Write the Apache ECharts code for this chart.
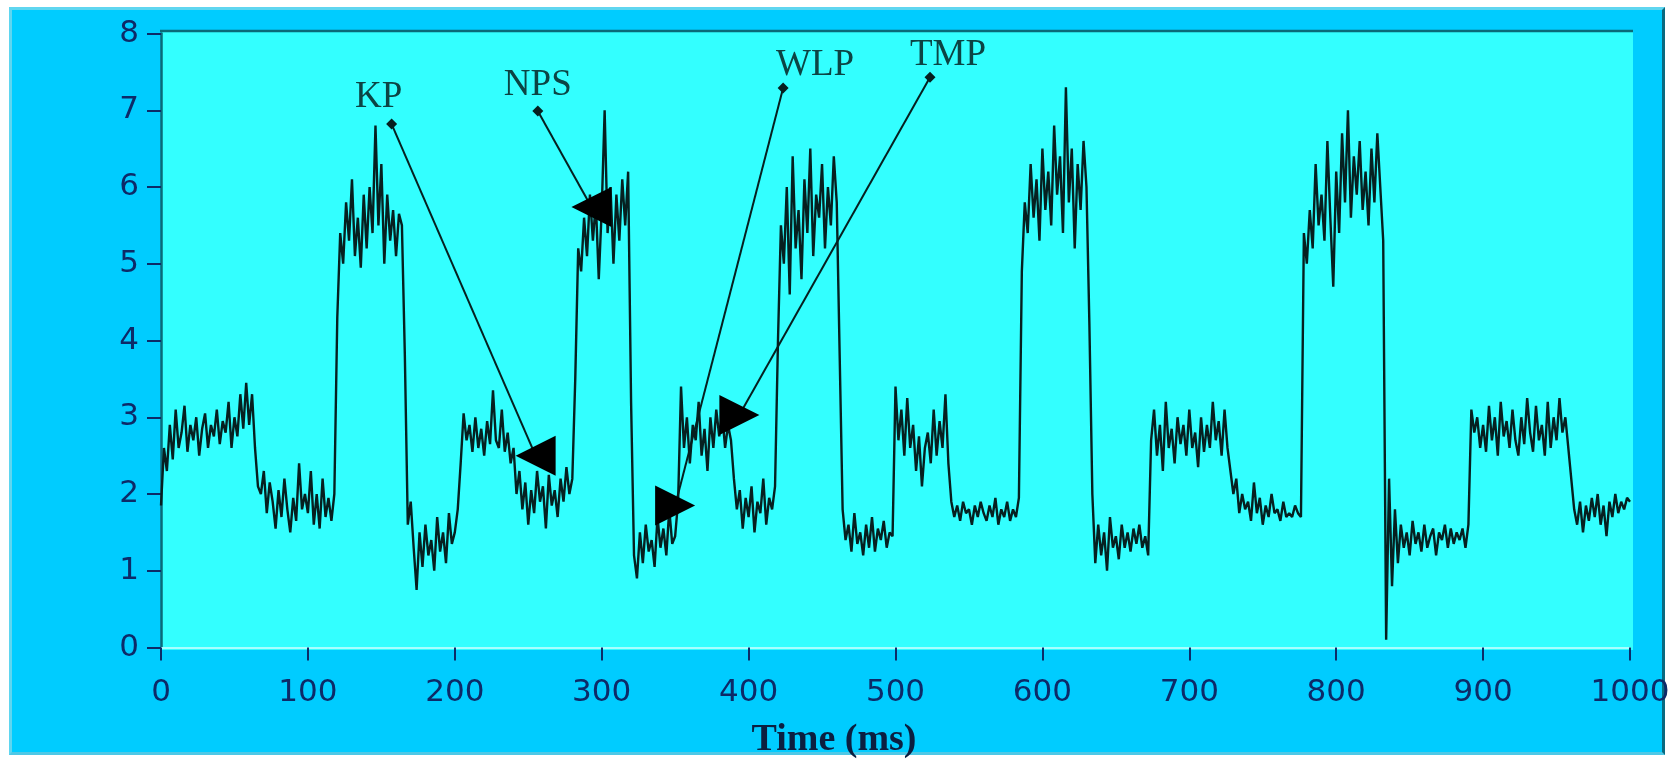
<!DOCTYPE html>
<html>
<head>
<meta charset="utf-8">
<script src="https://cdn.jsdelivr.net/npm/echarts@6/dist/echarts.min.js"></script>
<style>
  html, body { margin: 0; padding: 0; background: #ffffff; }
  #panel { position: absolute; left: 9px; top: 7px; width: 1656px; height: 748px;
           background: #00ccff; border-top: 3px solid #5fd6f0; border-left: 3px solid #5fd6f0;
           border-right: 3px solid #0a6a80; border-bottom: 3px solid #4ec8e6; box-sizing: border-box; }
  #chart { position: absolute; left: 0; top: 0; width: 1680px; height: 765px; }
</style>
</head>
<body>
<div id="panel"></div>
<div id="chart"></div>
<script>
// ---- data ----
const SAMPLE_STEP_MS = 2;
const signal = [
  1.85, 2.6, 2.3, 2.9, 2.45, 3.1, 2.6, 2.8, 3.15, 2.55,
  2.9, 2.7, 3.0, 2.5, 2.85, 3.05, 2.6, 2.9, 2.75, 3.1,
  2.65, 2.95, 2.8, 3.2, 2.6, 3.0, 2.75, 3.3, 2.85, 3.45,
  2.9, 3.3, 2.6, 2.1, 2.0, 2.3, 1.75, 2.15, 1.9, 1.55,
  2.05, 1.7, 2.2, 1.8, 1.5, 1.95, 1.65, 2.4, 1.8, 2.0,
  1.75, 2.3, 1.6, 2.0, 1.55, 2.2, 1.7, 1.95, 1.65, 2.0,
  4.3, 5.4, 5.0, 5.8, 5.3, 6.1, 5.1, 5.6, 4.95, 5.9,
  5.2, 6.0, 5.4, 6.8, 5.5, 6.3, 5.0, 5.9, 5.3, 5.7,
  5.1, 5.65, 5.5, 3.8, 1.6, 1.9, 1.3, 0.75, 1.5, 1.05,
  1.6, 1.2, 1.4, 1.0, 1.7, 1.25, 1.5, 1.1, 1.75, 1.35,
  1.5, 1.8, 2.4, 3.05, 2.7, 2.9, 2.55, 3.0, 2.6, 2.85,
  2.5, 2.95, 2.65, 3.35, 2.7, 2.6, 3.1, 2.55, 2.8, 2.4,
  2.6, 2.0, 2.3, 1.8, 2.15, 1.6, 2.05, 1.75, 2.3, 1.9,
  2.1, 1.55, 2.25, 1.85, 2.05, 1.7, 2.2, 1.9, 2.35, 2.0,
  2.2, 3.5, 5.2, 4.9, 5.6, 5.1, 5.9, 5.3, 5.8, 4.8,
  5.7, 7.0, 5.4, 6.0, 5.0, 5.9, 5.3, 6.1, 5.5, 6.2,
  3.2, 1.2, 0.9, 1.5, 1.1, 1.6, 1.25, 1.4, 1.05, 1.7,
  1.3, 1.55, 1.2, 1.8, 1.35, 1.45, 1.9, 3.4, 2.6, 3.0,
  2.4, 2.9, 2.7, 3.2, 2.5, 2.85, 2.3, 3.0, 2.6, 3.1,
  2.75, 3.05, 2.6, 2.9, 2.7, 2.2, 1.8, 2.05, 1.55, 1.95,
  1.7, 2.1, 1.5, 1.9, 1.75, 2.2, 1.6, 1.95, 1.8, 2.1,
  4.0, 5.5, 5.0, 6.0, 4.6, 6.4, 5.2, 5.7, 4.8, 6.1,
  5.4, 6.5, 5.1, 5.9, 5.6, 6.3, 5.2, 6.0, 5.5, 6.4,
  5.8, 3.8, 1.8, 1.4, 1.6, 1.25, 1.75, 1.35, 1.5, 1.2,
  1.6, 1.3, 1.7, 1.25, 1.55, 1.4, 1.65, 1.3, 1.5, 1.45,
  3.4, 2.7, 3.1, 2.5, 3.25, 2.6, 2.9, 2.3, 2.75, 2.1,
  2.6, 2.8, 2.4, 3.1, 2.5, 2.95, 2.6, 3.3, 2.4, 1.9,
  1.7, 1.85, 1.65, 1.9, 1.75, 1.8, 1.6, 1.85, 1.7, 1.9,
  1.75, 1.65, 1.85, 1.7, 1.95, 1.6, 1.8, 1.7, 1.9, 1.65,
  1.8, 1.7, 1.95, 4.9, 5.8, 5.4, 6.3, 5.6, 6.1, 5.3,
  6.5, 5.7, 6.2, 5.5, 6.8, 5.9, 6.4, 5.4, 7.3, 5.8,
  6.5, 5.2, 6.3, 5.7, 6.6, 6.0, 4.2, 2.0, 1.1, 1.6,
  1.2, 1.5, 1.0, 1.7, 1.3, 1.45, 1.15, 1.6, 1.3, 1.5,
  1.25, 1.55, 1.35, 1.6, 1.3, 1.45, 1.2, 2.7, 3.1, 2.5,
  2.9, 2.3, 3.2, 2.6, 2.85, 2.4, 3.0, 2.65, 2.9, 2.5,
  3.1, 2.6, 2.8, 2.35, 3.0, 2.55, 2.9, 2.6, 3.2, 2.7,
  2.95, 2.5, 3.1, 2.6, 2.3, 2.0, 2.2, 1.75, 2.0, 1.8,
  1.9, 1.65, 2.15, 1.75, 1.95, 1.6, 1.85, 1.7, 2.0, 1.75,
  1.8, 1.65, 1.9, 1.7, 1.75, 1.7, 1.85, 1.75, 1.7, 5.4,
  5.0, 5.7, 5.2, 6.3, 5.5, 5.9, 5.3, 6.6, 5.6, 4.7,
  6.2, 5.4, 6.7, 5.8, 7.0, 5.6, 6.4, 5.9, 6.6, 5.7,
  6.2, 5.5, 6.5, 5.8, 6.7, 6.0, 5.3, 0.1, 2.2, 0.8,
  1.8, 1.1, 1.6, 1.3, 1.5, 1.2, 1.65, 1.35, 1.5, 1.25,
  1.6, 1.3, 1.45, 1.55, 1.2, 1.5, 1.4, 1.6, 1.3, 1.55,
  1.35, 1.5, 1.4, 1.55, 1.3, 1.6, 3.1, 2.8, 3.0, 2.6,
  2.9, 2.55, 3.15, 2.7, 3.0, 2.5, 3.2, 2.75, 2.95, 2.6,
  3.1, 2.7, 2.5, 3.0, 2.65, 3.25, 2.8, 2.55, 3.15, 2.7,
  2.9, 2.5, 3.2, 2.6, 3.0, 2.7, 3.25, 2.8, 3.0, 2.6,
  2.2, 1.8, 1.6, 1.9, 1.5, 1.85, 1.65, 1.95, 1.7, 2.0,
  1.6, 1.85, 1.45, 1.9, 1.7, 2.0, 1.75, 1.9, 1.8, 1.95,
  1.9
];
const xTicks = [0, 100, 200, 300, 400, 500, 600, 700, 800, 900, 1000];
const yTicks = [0, 1, 2, 3, 4, 5, 6, 7, 8];
const xTitle = 'Time (ms)';

// annotations (data coordinates)
const annoNames   = ['KP', 'NPS', 'WLP', 'TMP'];
const annoAnchor  = [[157, 6.82], [256.5, 6.99], [423.5, 7.29], [523.5, 7.43]];
const annoArrow   = [[255, 2.5], [293, 5.74], [350, 1.85], [393.7, 3.03]];

// style-only config for annotations
const annoLabelOffset = [[-13, -27], [0, -26], [32, -23], [18, -22]];
const annoArrowRotate = [90, 90, -90, -90];

// ---- chart ----
const pts = signal.map((v, i) => [i * SAMPLE_STEP_MS, v]);
const chart = echarts.init(document.getElementById('chart'), null, { renderer: 'canvas' });

const GRID = { left: 161, top: 33.5, right: 50, bottom: 117.5 };
const navy = '#0d2a68';
const dark = '#062020';

chart.setOption({
  animation: false,
  backgroundColor: 'transparent',
  grid: { left: GRID.left, top: GRID.top, right: GRID.right, bottom: GRID.bottom, show: false },
  graphic: [
    { type: 'rect', z: -10, shape: { x: 161, y: 31, width: 1472, height: 619 },
      style: { fill: '#33ffff' } },
    { type: 'line', z: 10, shape: { x1: 160, y1: 31, x2: 1633, y2: 31 },
      style: { stroke: '#0a6a78', lineWidth: 2.5 } },
    { type: 'text', z: 10, x: 834, y: 740,
      style: { text: xTitle, font: 'bold 38px "Liberation Serif", "DejaVu Serif", serif',
               fill: '#0b1f40', align: 'center', verticalAlign: 'middle' } }
  ],
  xAxis: {
    type: 'value', min: 0, max: 1000, interval: 100,
    axisLine: { show: true, onZero: false, lineStyle: { color: '#a8ffff', width: 2 } },
    axisTick: { show: true, length: 13, lineStyle: { color: navy, width: 2 } },
    axisLabel: { color: navy, fontFamily: 'DejaVu Sans', fontSize: 31, margin: 30,
                 formatter: v => xTicks.includes(v) ? String(v) : '' },
    splitLine: { show: false }
  },
  yAxis: {
    type: 'value', min: 0, max: 8, interval: 1,
    axisLine: { show: true, lineStyle: { color: '#0a6a78', width: 2.5 } },
    axisTick: { show: true, length: 14, lineStyle: { color: navy, width: 2 } },
    axisLabel: { color: navy, fontFamily: 'DejaVu Sans', fontSize: 31, margin: 22,
                 formatter: v => yTicks.includes(v) ? String(v) : '' },
    splitLine: { show: false }
  },
  series: [
    {
      type: 'line', data: pts, symbol: 'none', smooth: false,
      lineStyle: { color: dark, width: 2.4 }, z: 3,
      markLine: {
        silent: true, symbol: ['none', 'none'], animation: false,
        label: { show: false },
        lineStyle: { color: dark, width: 2, type: 'solid', opacity: 1 },
        data: annoAnchor.map((a, i) => [{ coord: a }, { coord: annoArrow[i] }])
      }
    },
    {
      type: 'scatter', z: 5, symbol: 'diamond', symbolSize: 11,
      itemStyle: { color: dark, opacity: 1 },
      data: annoAnchor.map((a, i) => ({
        value: a, name: annoNames[i],
        label: { show: true, position: 'inside', offset: annoLabelOffset[i],
                 formatter: annoNames[i], color: '#0c4444',
                 fontFamily: '"Liberation Serif", "DejaVu Serif", serif', fontSize: 37 }
      }))
    },
    {
      type: 'scatter', z: 6, symbol: 'triangle', symbolSize: [40, 40],
      itemStyle: { color: '#000000', opacity: 1 },
      data: annoArrow.map((a, i) => ({ value: a, symbolRotate: annoArrowRotate[i] }))
    }
  ]
});
</script>
</body>
</html>
